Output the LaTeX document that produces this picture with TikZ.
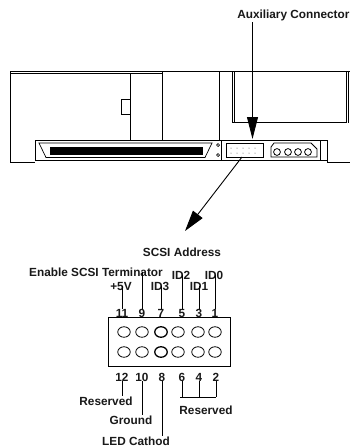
\documentclass[tikz,border=0pt]{standalone}
\usepackage{fontspec}
\setmainfont{Liberation Sans}
\usetikzlibrary{arrows.meta,shapes.geometric}
\tikzset{
 lab/.style={inner sep=0pt,font=\fontsize{11.8}{12}\selectfont\bfseries,text=black!90},
 pinhole/.style={ellipse,draw,line width=.8pt,minimum width=12.5pt,minimum height=10.5pt,inner sep=0pt},
 pinheavy/.style={pinhole,line width=1.3pt},
 wire/.style={line width=.8pt},
 body/.style={line width=.8pt},
 bigarrow/.style={line width=.9pt,-{Triangle[length=22pt,width=11pt]}}
}
\begin{document}
\begin{tikzpicture}[x=1pt,y=-1pt]
\useasboundingbox (0,0) rectangle (350,448);
\fill[white] (0,0) rectangle (350,448);
\begin{scope}
\clip (0,0) rectangle (350,448);
% drive body
\draw[body,line width=1pt] (10,71) -- (350,71);
\draw[body,line width=.8pt] (10,73.5) -- (162,73.5);
\draw[body] (10,71) -- (10,162) -- (35,162);
\draw[body] (35,140) -- (35,160.5) -- (327,160.5);
\draw[body] (35,140) -- (328,140);
\draw[body] (130,73) -- (130,140);
\draw[body] (162,71) -- (162,140);
\draw[body] (219,71) -- (219,140);
\draw[body] (221,140) -- (221,160.5);
\draw[body] (130,99) -- (121,99) -- (121,114.5) -- (130,114.5);
\draw[body] (232,71) -- (232,122.5) -- (346,122.5) -- (346,71);
\draw[body] (234,71) -- (234,122.5);
\draw[body] (348,71) -- (348,122.5);
\draw[body] (320,140) -- (320,160.5);
\draw[body] (327,140) -- (327,162) -- (350,162);
% SCSI connector
\draw[line width=.7pt] (39,143) -- (212,143) -- (205,157.5) -- (46,157.5) -- cycle;
\fill[black] (50,147) rectangle (203,155);
\draw[line width=.7pt] (218,145) circle (1.5);
\draw[line width=.7pt] (218,155) circle (1.5);
% auxiliary connector
\draw[line width=.7pt] (226,143) rectangle (263,157);
\foreach \x in {231,237,...,259}{
 \fill[black!70] (\x,148) circle (.5);
 \fill[black!70] (\x,153) circle (.5);
}
% power connector
\draw[line width=.8pt] (274,143) -- (311,143) -- (317,149) -- (317,157) -- (271,157) -- (271,147) -- cycle;
\foreach \x in {277,288,298,308}{\draw[line width=.8pt] (\x,152) circle (3.4);}
\end{scope}
% labels
\node[lab,anchor=east] (aux) at (349.6,15) {Auxiliary Connector};
\coordinate (auxtip) at (252.5,139);
\coordinate (auxfrom) at (252.5,22);
\draw[bigarrow] (auxfrom) -- (auxtip);
\coordinate (diagfrom) at (242,157);
\coordinate (diagtip) at (185,231);
\draw[line width=.9pt,-{Triangle[length=21pt,width=12pt]}] (diagfrom) -- (diagtip);
% header
\node[draw,line width=.9pt,minimum width=122pt,minimum height=49pt,inner sep=0pt] (hdr) at (169,341.5) {};
\foreach \n/\x/\y/\s in {a/124/332/pinhole,b/142/332/pinhole,c/161/332/pinheavy,d/178/332/pinhole,e/198/332/pinhole,f/215/332/pinhole,
 g/124/352/pinhole,h/142/352/pinhole,i/161/352/pinheavy,j/178/352/pinhole,k/198/352/pinhole,l/215/352/pinhole}{
 \node[\s] (p\n) at (\x,\y) {};
}
\foreach \n/\t/\x in {n11/11/122,n9/9/142,n7/7/161,n5/5/182,n3/3/199,n1/1/215}{
 \node[lab] (\n) at (\x,313) {\t};
}
\foreach \n/\t/\x in {n12/12/122,n10/10/142,n8/8/162,n6/6/182,n4/4/199,n2/2/216}{
 \node[lab] (\n) at (\x,377) {\t};
}
\node[lab] (addr) at (182,252) {SCSI Address};
\node[lab] (term) at (96,272) {Enable SCSI Terminator};
\node[lab] (id2) at (181,275) {ID2};
\node[lab] (id0) at (214,275) {ID0};
\node[lab] (v5) at (121,286) {+5V};
\node[lab] (id3) at (160,286) {ID3};
\node[lab] (id1) at (199,286) {ID1};
\node[lab] (res1) at (106,401) {Reserved};
\node[lab] (gnd) at (131,420) {Ground};
\node[lab] (led) at (136,441) {LED Cathod};
\node[lab] (res2) at (206,410) {Reserved};
% wires top
\draw[wire] (n11.north) -- (n11.north |- v5.center);
\draw[wire] (n9.north) -- (n9.north |- term.center);
\draw[wire] (n7.north) -- (n7.north |- id3.center);
\draw[wire] (n5.north) -- (n5.north |- id2.center);
\draw[wire] (n3.north) -- (n3.north |- id1.center);
\draw[wire] (n1.north) -- (n1.north |- id0.center);
% wires bottom
\draw[wire] (n12.south) -- (n12.south |- res1.north);
\draw[wire] (n10.south) -- (n10.south |- gnd.north);
\draw[wire] (n8.south) -- (n8.south |- led.north);
\coordinate (brl) at (180,397);
\coordinate (brr) at (216,397);
\draw[wire] (brl) -- (brr);
\draw[wire] (n6.south) -- (n6.south |- brl);
\draw[wire] (n4.south) -- (n4.south |- brl);
\draw[wire] (n2.south) -- (n2.south |- brl);
\end{tikzpicture}
\end{document}
